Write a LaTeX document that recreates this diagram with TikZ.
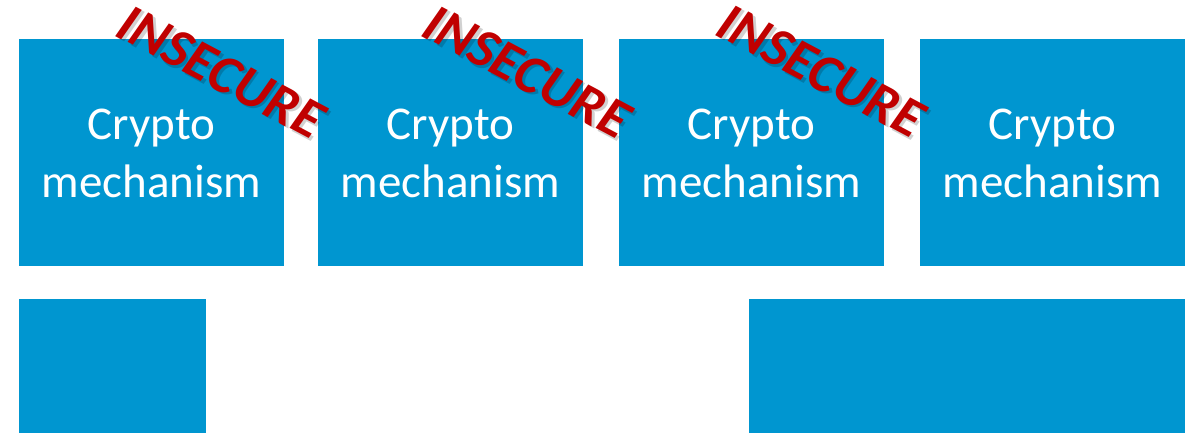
\documentclass[tikz,border=0pt]{standalone}
\usepackage{fontspec}
\setmainfont{Carlito}
\definecolor{boxblue}{HTML}{0096D0}
\definecolor{insred}{HTML}{C00000}
\begin{document}
\begin{tikzpicture}[x=1pt,y=-1pt,
  bluebox/.style={fill=boxblue,draw=none},
  boxtext/.style={text=white,font=\fontsize{47}{56}\selectfont,anchor=base,inner sep=0pt},
  stamp/.style={font=\fontsize{55}{66}\selectfont\bfseries\itshape,rotate=-28,inner sep=0pt}]
\useasboundingbox (0,0) rectangle (1197,433);
% top row boxes
\foreach \i/\x in {1/19,2/318,3/619,4/920}{
  \path[bluebox] (\x,39) rectangle +(265,227);
  \node[boxtext] (c\i) at (\x+132.5,140) {Crypto};
  \node[boxtext] (m\i) at (\x+132.5,197) {mechanism};
}
% bottom boxes
\path[bluebox] (19,299) rectangle (206,433);
\path[bluebox] (749,299) rectangle (1185,433);
% INSECURE stamps
\foreach \j/\cx/\cy in {1/221/72,2/527/72,3/821/71}{
  \node[stamp,text=black,opacity=0.18] (h\j) at (\cx+2.5,\cy+2.5) {INSECURE};
  \node[stamp,text=insred] (s\j) at (\cx,\cy) {INSECURE};
}
\end{tikzpicture}
\end{document}
